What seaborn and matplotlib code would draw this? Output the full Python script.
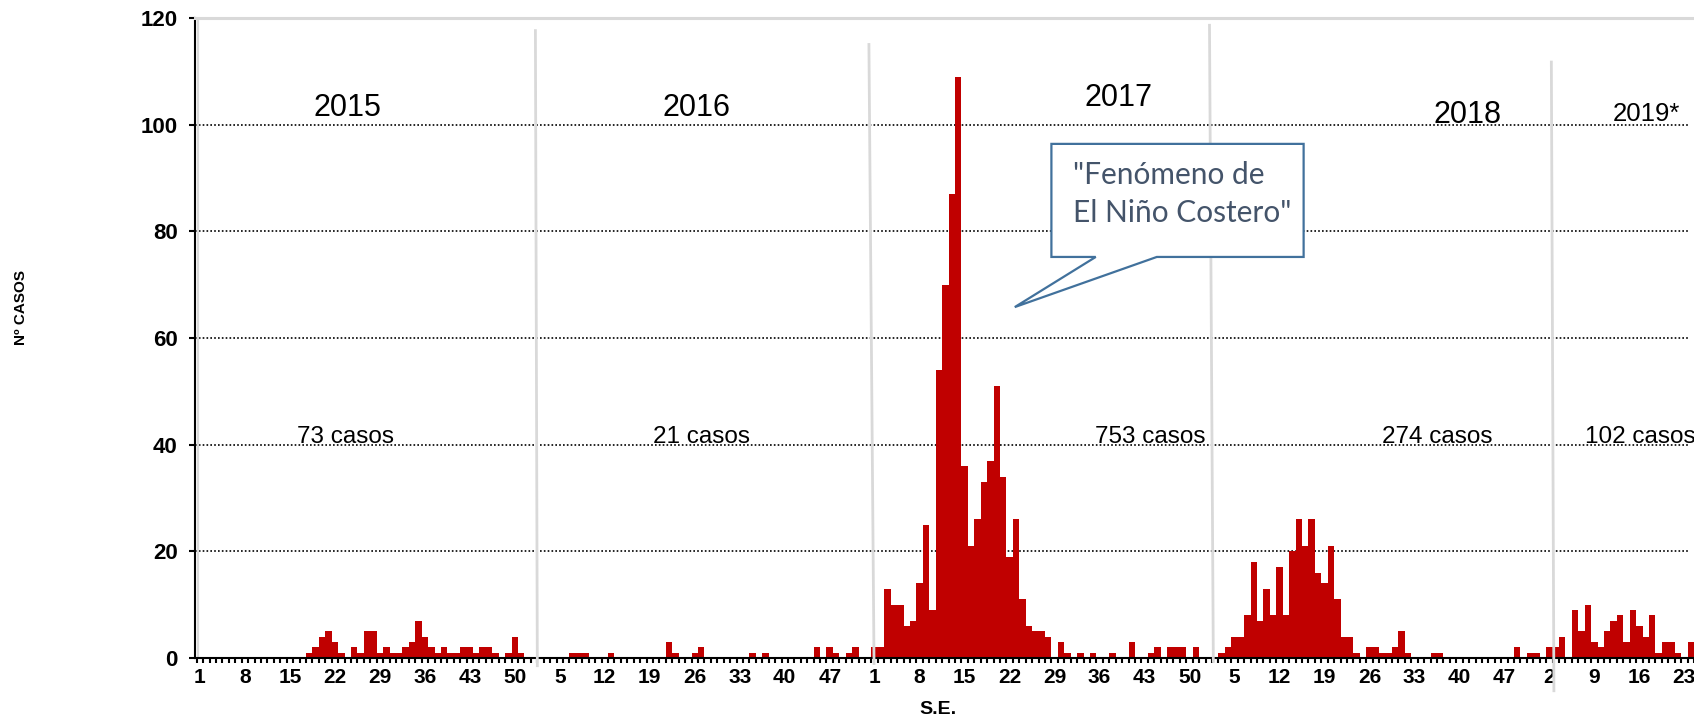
import numpy as np
import pandas as pd
import matplotlib
matplotlib.use("Agg")
import matplotlib.pyplot as plt
from matplotlib.patches import Polygon
import seaborn as sns

# ---------------- data (weekly cases per epidemiological week) ----------------
years = ["2015", "2016", "2017", "2018", "2019*"]
year_totals = ["73 casos", "21 casos", "753 casos", "274 casos", "102 casos"]

cases_2015 = [0, 0, 0, 0, 0, 0, 0, 0, 0, 0, 0, 0, 0, 0, 0, 0, 0,
              1, 2, 4, 5, 3, 1, 0, 2, 1, 5, 5, 1, 2, 1, 1, 2, 3, 7, 4, 2, 1, 2,
              1, 1, 2, 2, 1, 2, 2, 1, 0, 1, 4, 1, 0]
cases_2016 = [0, 0, 0, 0, 0, 0, 1, 1, 1, 0, 0, 0, 1, 0, 0, 0, 0, 0, 0, 0, 0,
              3, 1, 0, 0, 1, 2, 0, 0, 0, 0, 0, 0, 0, 1, 0, 1, 0, 0, 0, 0, 0, 0,
              0, 2, 0, 2, 1, 0, 1, 2, 0, 0]
cases_2017 = [2, 2, 13, 10, 10, 6, 7, 14, 25, 9, 54, 70, 87, 109, 36, 21, 26,
              33, 37, 51, 34, 19, 26, 11, 6, 5, 5, 4, 0, 3, 1, 0, 1, 0, 1, 0,
              0, 1, 0, 0, 3, 0, 0, 1, 2, 0, 2, 2, 2, 0, 2, 0]
cases_2018 = [0, 0, 1, 2, 4, 4, 8, 18, 7, 13, 8, 17, 8, 20, 26, 21, 26, 16,
              14, 21, 11, 4, 4, 1, 0, 2, 2, 1, 1, 2, 5, 1, 0, 0, 0, 1, 1, 0,
              0, 0, 0, 0, 0, 0, 0, 0, 0, 0, 2, 0, 1, 1]
cases_2019 = [0, 2, 2, 4, 0, 9, 5, 10, 3, 2, 5, 7, 8, 3, 9, 6, 4, 8, 1, 3, 3,
              1, 0, 3]

series = [cases_2015, cases_2016, cases_2017, cases_2018, cases_2019]

rows = []
pos = 1
for yr, vals in zip(years, series):
    for wk, v in enumerate(vals, start=1):
        rows.append({"pos": pos, "anio": yr, "semana": wk, "casos": v})
        pos += 1
df = pd.DataFrame(rows)

# ---------------- layout / style ----------------
RED = "#C00000"
SEP_GRAY = "#D9D9D9"
BOX_BLUE = "#41719C"
TXT_SLATE = "#44546A"

plt.rcParams["font.family"] = ["Liberation Sans", "DejaVu Sans"]

fig = plt.figure(figsize=(16.94, 7.15), dpi=100)
ax = fig.add_axes([0.1151, 0.0797, 0.8849, 0.8951])

sns.barplot(data=df, x="pos", y="casos", native_scale=True, width=1.0,
            color=RED, saturation=1, linewidth=0, errorbar=None, ax=ax,
            zorder=2)

ax.set_xlim(0.224, 232.8)
ax.set_ylim(0, 120)
ax.set_xlabel("")
ax.set_ylabel("")

# dotted horizontal gridlines
grid_vals = [20, 40, 60, 80, 100]
ax.hlines(grid_vals, 0.224, 232.8, colors="black", linestyles=(0, (1, 1.3)),
          linewidth=1.2, zorder=1)

# spines
ax.spines["left"].set(color="black", linewidth=1.5)
ax.spines["bottom"].set(color="black", linewidth=1.5)
ax.spines["top"].set(color=SEP_GRAY, linewidth=2.2)
ax.spines["right"].set_visible(False)
ax.plot([0.75, 0.75], [0, 120], color=SEP_GRAY, lw=1.6, zorder=1)

# y ticks
ax.set_yticks(range(0, 121, 20))
ax.set_yticklabels([str(v) for v in range(0, 121, 20)], fontweight="bold",
                   fontsize=16)
ax.tick_params(axis="y", length=4.5, width=1.5, pad=8, colors="black")

# x ticks: label every 7 weeks, small tick marks between weeks
tick_df = df.iloc[::7]
ax.set_xticks(tick_df["pos"].tolist())
ax.set_xticklabels([str(w) for w in tick_df["semana"]], fontweight="bold",
                   fontsize=15)
ax.tick_params(axis="x", which="major", length=0, pad=7.5)
ax.set_xticks((df["pos"] - 0.5).tolist() + [df["pos"].max() + 0.5], minor=True)
ax.tick_params(axis="x", which="minor", length=3.6, width=1.5, color="black")

# year separators (x_top, x_bottom, y_top, y_bottom)
separators = [(53.2, 53.5, 117.9, -1.7),
              (105.1, 105.9, 115.3, -1.3),
              (158.1, 158.7, 118.9, -0.9),
              (211.3, 211.7, 112.0, -6.4)]
for xt, xb, yt, yb in separators:
    ax.plot([xt, xb], [yt, yb], color=SEP_GRAY, lw=2.0, clip_on=False,
            zorder=3, solid_capstyle="butt")

# year labels
year_pos = [(18.7, 101.7, 22), (73.0, 101.7, 22), (138.6, 103.5, 22),
            (192.9, 100.3, 22), (220.9, 100.6, 18.5)]
for lab, (x, y, fs) in zip(years, year_pos):
    ax.text(x, y, lab, fontsize=fs, ha="left", va="baseline", color="black",
            zorder=4)

# case totals
total_pos = [16.05, 71.45, 140.3, 185.0, 216.5]
for lab, x in zip(year_totals, total_pos):
    ax.text(x, 40.3, lab, fontsize=17.5, ha="left", va="baseline",
            color="black", zorder=4, clip_on=False)

# callout
callout = [(133.5, 96.4), (172.75, 96.4), (172.75, 75.2), (149.9, 75.2),
           (127.8, 65.8), (140.4, 75.2), (133.5, 75.2)]
ax.add_patch(Polygon(callout, closed=True, facecolor="white",
                     edgecolor=BOX_BLUE, linewidth=1.6, zorder=5,
                     joinstyle="miter"))
ax.text(136.8, 88.9, "\"Fenómeno de", fontsize=21.5, family=["Lato", "DejaVu Sans"],
        color=TXT_SLATE, ha="left", va="baseline", zorder=6)
ax.text(136.8, 81.8, "El Niño Costero\"", fontsize=21.5,
        family=["Lato", "DejaVu Sans"], color=TXT_SLATE, ha="left",
        va="baseline", zorder=6)

# axis titles
fig.text(21 / 1694, 1 - 307 / 715, "Nº CASOS", rotation=90,
         fontweight="bold", fontsize=11, ha="center", va="center")
fig.text(938 / 1694, 0.002, "S.E.", fontweight="bold", fontsize=14,
         ha="center", va="baseline")

fig.savefig("out.png", dpi=100)
